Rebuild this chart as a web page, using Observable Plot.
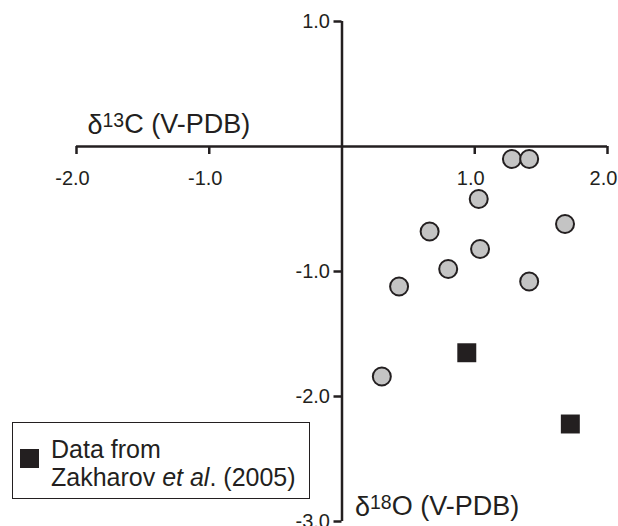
<!DOCTYPE html>
<html>
<head>
<meta charset="utf-8">
<script src="https://cdn.jsdelivr.net/npm/d3@7"></script>
<script src="https://cdn.jsdelivr.net/npm/@observablehq/plot@0.6"></script>
<style>
  html, body { margin: 0; padding: 0; background: #fff; }
  #wrap { position: relative; width: 618px; height: 526px; font-family: "Liberation Sans", Arial, sans-serif; }
  #legend { position: absolute; left: 12px; top: 422px; width: 298px; height: 77px; border: 1px solid #231f20; box-sizing: border-box; background: #fff; }
  #legend .sw { position: absolute; left: 7px; top: 26px; width: 19px; height: 19px; background: #231f20; }
  #legend .tx { position: absolute; left: 38px; top: 12px; font-size: 25px; line-height: 28px; color: #231f20; white-space: nowrap; }
</style>
</head>
<body>
<div id="wrap"></div>
<script>
// This study (circles): x = δ13C-axis value, y = δ18O-axis value
const studyX = [1.28, 1.41, 1.03, 1.68, 0.66, 1.04, 0.80, 1.41, 0.43, 0.30];
const studyY = [-0.10, -0.10, -0.42, -0.62, -0.68, -0.82, -0.98, -1.08, -1.12, -1.84];
// Zakharov et al. (2005) (squares)
const zakX = [0.94, 1.72];
const zakY = [-1.65, -2.22];
// Axis ticks
const xTicks = [-2, -1, 1, 2];
const xTickLabels = ["-2.0", "-1.0", "1.0", "2.0"];
const yTicks = [1, -1, -2, -3];
const yTickLabels = ["1.0", "-1.0", "-2.0", "-3.0"];
const xAxisLabel = "δ13C (V-PDB)";
const yAxisLabel = "δ18O (V-PDB)";

const study = studyX.map((x, i) => ({x, y: studyY[i]}));
const zak = zakX.map((x, i) => ({x, y: zakY[i]}));
const xt = xTicks.map((v, i) => ({v, label: xTickLabels[i]}));
const yt = yTicks.map((v, i) => ({v, label: yTickLabels[i]}));

const ink = "#231f20";
const chart = Plot.plot({
  width: 618,
  height: 526,
  marginLeft: 76,
  marginRight: 11,
  marginTop: 21,
  marginBottom: 5,
  x: {domain: [-2, 2], axis: null},
  y: {domain: [-3, 1], axis: null},
  style: {fontFamily: "'Liberation Sans', Arial, sans-serif", background: "#fff", overflow: "visible"},
  marks: [
    Plot.ruleY([0], {x1: -2, x2: 2, stroke: ink, strokeWidth: 2.5}),
    Plot.ruleX([0], {y1: -3, y2: 1, stroke: ink, strokeWidth: 2.5}),
    Plot.ruleX(xt, {x: "v", y1: 0, y2: 0, insetBottom: -8, stroke: ink, strokeWidth: 2.5}),
    Plot.ruleY(yt, {y: "v", x1: 0, x2: 0, insetLeft: -8, stroke: ink, strokeWidth: 2.5}),
    Plot.text(xt, {x: "v", y: 0, text: "label", dx: -4, dy: 32, fontSize: 20, fill: ink}),
    Plot.text(yt, {x: 0, y: "v", text: "label", dx: -12, textAnchor: "end", fontSize: 20, fill: ink}),
    Plot.text([xAxisLabel], {x: -2, y: 0, text: d => d, dx: 11, dy: -13, lineAnchor: "bottom", textAnchor: "start", fontSize: 27, fill: ink, className: "axlabel"}),
    Plot.text([yAxisLabel], {x: 0, y: -3, text: d => d, dx: 13, dy: -6, lineAnchor: "bottom", textAnchor: "start", fontSize: 27, fill: ink, className: "axlabel"}),
    Plot.dot(study, {x: "x", y: "y", r: 9, fill: "#c4c4c4", stroke: ink, strokeWidth: 2}),
    Plot.dot(zak, {x: "x", y: "y", r: 10.7, symbol: "square", fill: ink, stroke: "none"})
  ]
});
document.getElementById("wrap").appendChild(chart);

// superscripts in axis labels
d3.select(chart).selectAll(".axlabel text").each(function() {
  const t = d3.select(this);
  const s = t.text();
  const m = s.match(/^(δ)(\d+)(.*)$/);
  if (!m) return;
  t.text(null);
  t.append("tspan").text(m[1]);
  t.append("tspan").attr("font-size", "0.72em").attr("dy", "-0.35em").text(m[2]);
  t.append("tspan").attr("dy", "0.25em").text(m[3]);
});

const legend = document.createElement("div");
legend.id = "legend";
legend.innerHTML = '<div class="sw"></div><div class="tx">Data from<br>Zakharov <i>et al</i>. (2005)</div>';
document.getElementById("wrap").appendChild(legend);
</script>
</body>
</html>
